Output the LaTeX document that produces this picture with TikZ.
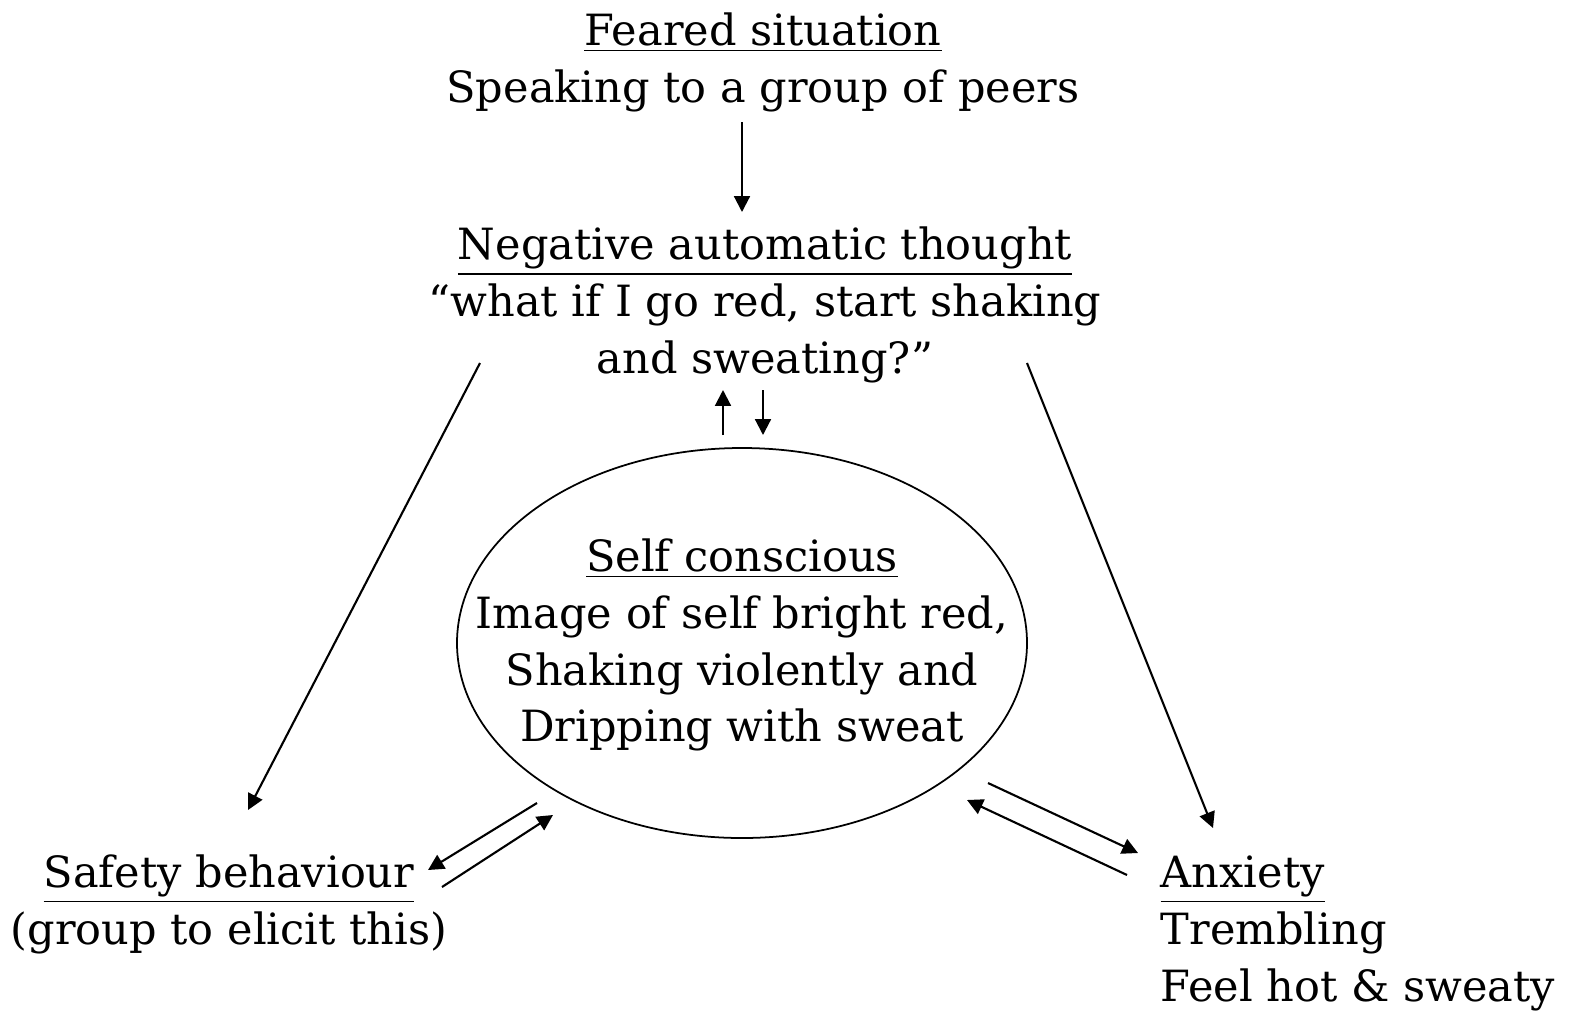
\documentclass[tikz,border=0pt]{standalone}
\usepackage{fontspec}
\setmainfont{DejaVu Serif}
\usetikzlibrary{arrows.meta,positioning,shapes.geometric}

\begin{document}
\begin{tikzpicture}[
  x=0.1mm,y=-0.1mm,
  >={Triangle[length=4.5pt,width=4.5pt]},
  block/.style={align=center,inner sep=0pt,
    font=\fontsize{12.25}{16.2}\selectfont},
  link/.style={->,line width=0.6pt}
]
  \useasboundingbox (0,0) rectangle (1569,1012);

  \node[block] (feared) at (763,62)
    {\underline{Feared situation}\\Speaking to a group of peers};
  \node[block] (thought) at (765,305)
    {\underline{Negative automatic thought}\\“what if I go red, start shaking\\and sweating?”};
  \node[block] (selfimg) at (742,645)
    {\underline{Self conscious}\\Image of self bright red,\\Shaking violently and\\Dripping with sweat};
  \draw[line width=0.5pt] (742,643) ellipse [x radius=285,y radius=195];
  \node[block] (safety) at (229,904)
    {\underline{Safety behaviour}\\(group to elicit this)};
  \node[block,align=left,anchor=west] (anxiety) at (1160,933)
    {\underline{Anxiety}\\Trembling\\Feel hot \& sweaty};

  % situation to thought
  \draw[link] ([shift={(-21,60)}]feared.center) -- ([shift={(-23,-93)}]thought.center);
  % thought to behaviour and anxiety
  \draw[link] ([shift={(-285,58)}]thought.center) -- ([shift={(19,-94)}]safety.center);
  \draw[link] ([shift={(262,58)}]thought.center) -- ([shift={(53,-105)}]anxiety.west);
  % thought and self image
  \draw[link] ([shift={(-19,-210)}]selfimg.center) -- ([shift={(-42,85)}]thought.center);
  \draw[link] ([shift={(-2,85)}]thought.center) -- ([shift={(21,-210)}]selfimg.center);
  % self image and behaviour
  \draw[link] ([shift={(-205,158)}]selfimg.center) -- ([shift={(199,-34)}]safety.center);
  \draw[link] ([shift={(213,-17)}]safety.center) -- ([shift={(-189,170)}]selfimg.center);
  % self image and anxiety
  \draw[link] ([shift={(-33,-58)}]anxiety.west) -- ([shift={(225,155)}]selfimg.center);
  \draw[link] ([shift={(246,138)}]selfimg.center) -- ([shift={(-22,-80)}]anxiety.west);
\end{tikzpicture}
\end{document}
